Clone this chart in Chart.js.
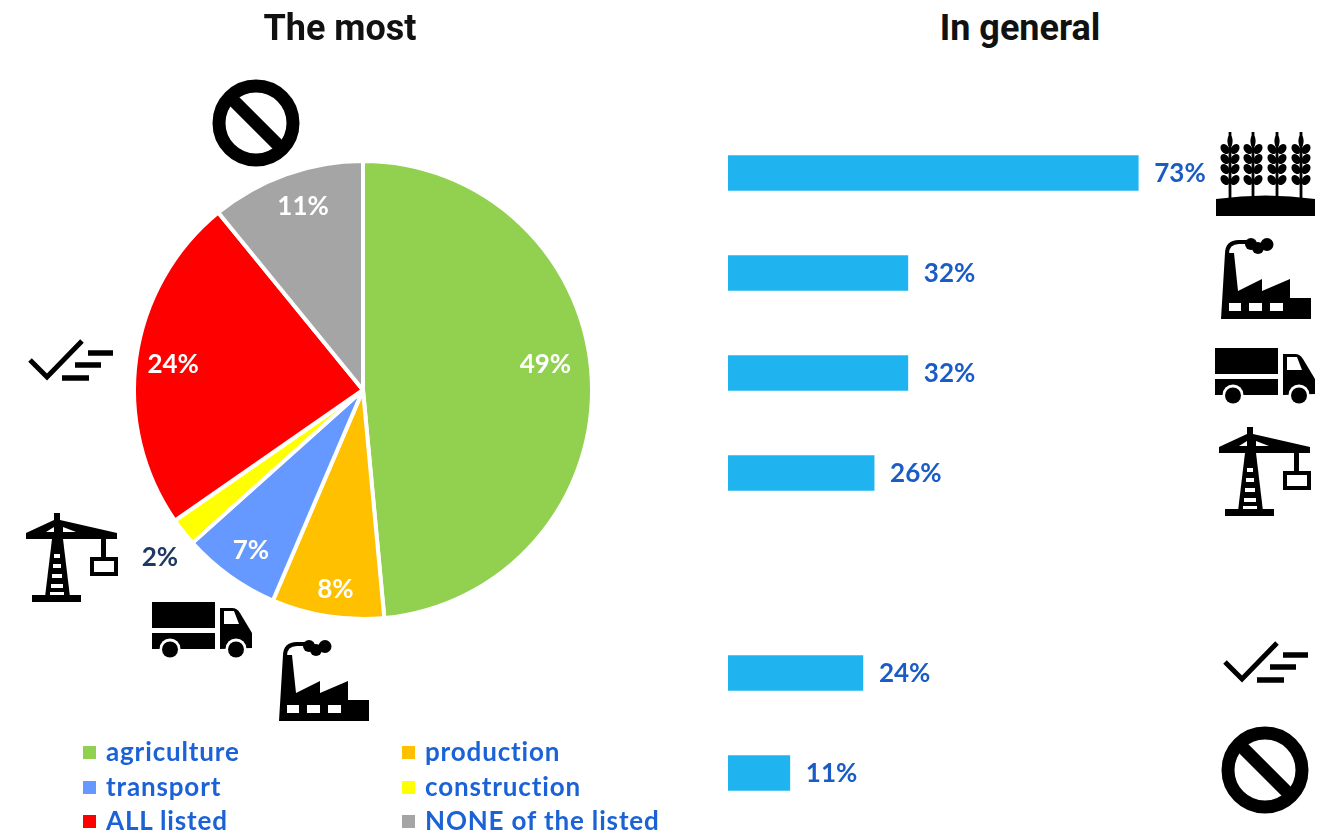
<!DOCTYPE html>
<html>
<head>
<meta charset="utf-8">
<title>The most / In general</title>
<script src="https://cdn.jsdelivr.net/npm/chart.js@4"></script>
<style>
    html, body { margin: 0; background: #fff; }
    #page { position: relative; width: 1329px; height: 834px; overflow: hidden; }
    #pieChart, #barChart, .icon, .title, #legend { position: absolute; }
    #pieChart { left: 0; top: 0; }
    #barChart { left: 728px; top: 123px; }
    .title { top: 7px; width: 400px; text-align: center; color: #111;
        font: 700 36px Roboto, sans-serif; }
    #legend { left: 83px; top: 734px; display: grid; grid-template-columns: 319px 300px;
        grid-auto-rows: 34.5px; color: #1b62d6; font: 700 26px Lato, sans-serif; letter-spacing: 0.85px; }
    #legend div { display: flex; align-items: center; white-space: nowrap; }
    #legend i { width: 13px; height: 13px; margin: 3px 10px 0 0; flex: none; }
</style>
</head>
<body>
<div id="page">
    <canvas id="pieChart" width="726" height="834"></canvas>
    <canvas id="barChart" width="562" height="700"></canvas>
    <div class="title" style="left:140px">The most</div>
    <div class="title" style="left:820px">In general</div>
    <div id="legend"></div>

    <svg width="0" height="0" style="position:absolute">
        <symbol id="factory" viewBox="0 0 90 81">
            <path d="M0 81L4 15H13L17 53L41 41V53L69 41V60H90V81Z"/>
            <path d="M6 16Q6 4 18 4H27" fill="none" stroke="#000" stroke-width="4"/>
            <circle cx="30" cy="6" r="6"/><circle cx="46" cy="6.5" r="6.5"/><circle cx="37" cy="10" r="6"/>
            <rect x="8" y="65" width="12" height="8" fill="#fff"/>
            <rect x="28" y="65" width="13" height="8" fill="#fff"/>
            <rect x="49" y="65" width="13" height="8" fill="#fff"/>
        </symbol>
        <symbol id="truck" viewBox="0 0 101 57">
            <rect x="0" y="1" width="63" height="26"/>
            <rect x="0" y="32" width="63" height="16"/>
            <path d="M68 7H80Q85 7 88 12L100 32V47L68 48Z"/>
            <path d="M72 10H82L87 23H72Z" fill="#fff"/>
            <circle cx="18" cy="48" r="10.5" fill="#fff"/><circle cx="84" cy="48" r="10.5" fill="#fff"/>
            <circle cx="18" cy="48.5" r="8"/><circle cx="84" cy="48.5" r="8"/>
        </symbol>
        <symbol id="crane" viewBox="0 0 92 91">
            <path d="M0 20L28 7V0H34V7L91 20V26H0Z"/>
            <path d="M20 19L28 14V19ZM37 19V14L50 19Z" fill="#fff"/>
            <path d="M26 26H37L44 84H19Z"/>
            <g fill="#fff">
                <rect x="28" y="41" width="6" height="4"/><rect x="27" y="51" width="8" height="4"/>
                <rect x="26" y="61" width="10" height="4"/><rect x="25" y="71" width="12" height="4"/>
                <rect x="24" y="79" width="14" height="4"/>
            </g>
            <rect x="6" y="82" width="49" height="7"/>
            <rect x="75" y="26" width="5" height="20"/>
            <rect x="66" y="46" width="24" height="15" fill="#fff" stroke="#000" stroke-width="4"/>
        </symbol>
        <symbol id="check" viewBox="0 0 87 45">
            <path d="M2 22L19 39L54 3" fill="none" stroke="#000" stroke-width="5"/>
            <path d="M60 15H85M47 27H73M34 40H61" fill="none" stroke="#000" stroke-width="5.5"/>
        </symbol>
        <symbol id="none" viewBox="0 0 88 88">
            <circle cx="44" cy="44" r="37" fill="none" stroke="#000" stroke-width="13"/>
            <path d="M18 18L70 70" stroke="#000" stroke-width="13"/>
        </symbol>
        <symbol id="ear" viewBox="0 0 20 67">
            <path d="M10 0V67" stroke="#000" stroke-width="2.8"/>
            <g>
                <ellipse cx="5" cy="17" rx="4" ry="5.5" transform="rotate(-35 5 17)"/>
                <ellipse cx="15" cy="17" rx="4" ry="5.5" transform="rotate(35 15 17)"/>
                <ellipse cx="5" cy="27" rx="4" ry="5.5" transform="rotate(-35 5 27)"/>
                <ellipse cx="15" cy="27" rx="4" ry="5.5" transform="rotate(35 15 27)"/>
                <ellipse cx="5" cy="37" rx="4" ry="5.5" transform="rotate(-35 5 37)"/>
                <ellipse cx="15" cy="37" rx="4" ry="5.5" transform="rotate(35 15 37)"/>
                <ellipse cx="5" cy="48" rx="4" ry="5.5" transform="rotate(-35 5 48)"/>
                <ellipse cx="15" cy="48" rx="4" ry="5.5" transform="rotate(35 15 48)"/>
            </g>
            <ellipse cx="10" cy="9" rx="2.6" ry="6"/>
        </symbol>
        <symbol id="wheat" viewBox="0 0 99 84">
            <use href="#ear" x="4" y="0" width="20" height="67"/>
            <use href="#ear" x="27" y="0" width="20" height="67"/>
            <use href="#ear" x="51" y="0" width="20" height="67"/>
            <use href="#ear" x="75" y="0" width="20" height="67"/>
            <path d="M0 67Q50 60 99 67V84H0Z"/>
        </symbol>
    </svg>

    <svg class="icon" style="left:212px;top:79px" width="88" height="88"><use href="#none"/></svg>
    <svg class="icon" style="left:28px;top:338px" width="87" height="45"><use href="#check"/></svg>
    <svg class="icon" style="left:26px;top:513px" width="92" height="91"><use href="#crane"/></svg>
    <svg class="icon" style="left:152px;top:601px" width="101" height="57"><use href="#truck"/></svg>
    <svg class="icon" style="left:279px;top:640px" width="90" height="81"><use href="#factory"/></svg>

    <svg class="icon" style="left:1216px;top:132px" width="99" height="84"><use href="#wheat"/></svg>
    <svg class="icon" style="left:1221px;top:238px" width="90" height="81"><use href="#factory"/></svg>
    <svg class="icon" style="left:1215px;top:347px" width="101" height="57"><use href="#truck"/></svg>
    <svg class="icon" style="left:1219px;top:427px" width="92" height="91"><use href="#crane"/></svg>
    <svg class="icon" style="left:1223px;top:640px" width="87" height="45"><use href="#check"/></svg>
    <svg class="icon" style="left:1221px;top:726px" width="88" height="88"><use href="#none"/></svg>
</div>

<script>
// pie: share naming each sector as "the most"
const pieLabels = ['agriculture', 'production', 'transport', 'construction', 'ALL listed', 'NONE of the listed'];
const pieValues = [49, 8, 7, 2, 24, 11];
const pieColors = ['#92d050', '#ffc000', '#6699ff', '#ffff00', '#ff0000', '#a5a5a5'];

// bars: the gap row splits the four sectors from the two summary answers
const barLabels = ['agriculture', 'production', 'transport', 'construction', '', 'ALL listed', 'NONE of the listed'];
const barValues = [73, 32, 32, 26, null, 24, 11];

const labelFont = '700 26px Lato, sans-serif';

// where each pie label sits, relative to the point at 78% of the radius
const pieLabelNudge = [[4, -17], [0, 23], [-8, 15], [-63, 57], [-13, 0], [0, -15]];

const pieValueLabels = {
    id: 'pieValueLabels',
    afterDatasetsDraw(chart) {
        const ctx = chart.ctx;
        ctx.save();
        ctx.font = labelFont;
        ctx.textAlign = 'center';
        ctx.textBaseline = 'middle';
        chart.getDatasetMeta(0).data.forEach(function (arc, i) {
            const mid = (arc.startAngle + arc.endAngle) / 2;
            const r = arc.outerRadius * 0.78;
            const x = arc.x + Math.cos(mid) * r + pieLabelNudge[i][0];
            const y = arc.y + Math.sin(mid) * r + pieLabelNudge[i][1];
            // the small slice has its label outside, on white
            ctx.fillStyle = pieValues[i] < 5 ? '#1f3864' : '#fff';
            ctx.fillText(pieValues[i] + '%', x, y);
        });
        ctx.restore();
    }
};

const barValueLabels = {
    id: 'barValueLabels',
    afterDatasetsDraw(chart) {
        const ctx = chart.ctx;
        ctx.save();
        ctx.font = labelFont;
        ctx.fillStyle = '#1b5cc4';
        ctx.textBaseline = 'middle';
        chart.getDatasetMeta(0).data.forEach(function (bar, i) {
            if (barValues[i] === null) return;
            ctx.fillText(barValues[i] + '%', bar.x + 16, bar.y + 1);
        });
        ctx.restore();
    }
};

new Chart(document.getElementById('pieChart'), {
    type: 'pie',
    data: {
        labels: pieLabels,
        datasets: [{
            data: pieValues,
            backgroundColor: pieColors,
            borderColor: '#fff',
            borderWidth: 4
        }]
    },
    options: {
        responsive: false,
        animation: false,
        layout: { padding: { left: 132, right: 132, top: 159, bottom: 213 } },
        plugins: { legend: { display: false }, tooltip: { enabled: false } }
    },
    plugins: [pieValueLabels]
});

new Chart(document.getElementById('barChart'), {
    type: 'bar',
    data: {
        labels: barLabels,
        datasets: [{
            data: barValues,
            backgroundColor: '#1fb4f0',
            barThickness: 35
        }]
    },
    options: {
        indexAxis: 'y',
        responsive: false,
        animation: false,
        scales: {
            x: { display: false, min: 0, max: 100 },
            y: { display: false }
        },
        plugins: { legend: { display: false }, tooltip: { enabled: false } }
    },
    plugins: [barValueLabels]
});

// legend filled row by row, same order as the slices
const legend = document.getElementById('legend');
pieLabels.forEach(function (name, i) {
    const row = document.createElement('div');
    const swatch = document.createElement('i');
    swatch.style.background = pieColors[i];
    row.appendChild(swatch);
    row.appendChild(document.createTextNode(name));
    legend.appendChild(row);
});
</script>
</body>
</html>
